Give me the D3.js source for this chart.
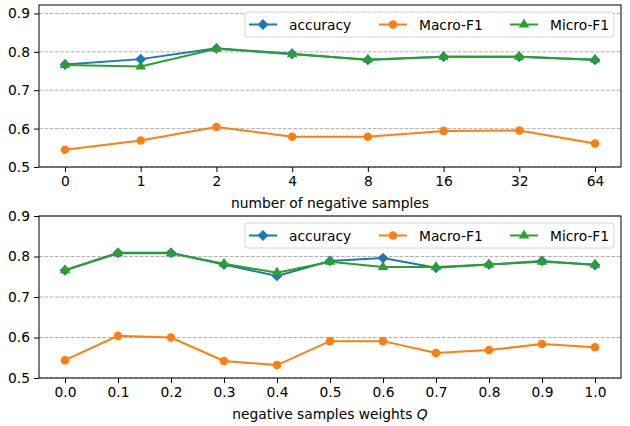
<!DOCTYPE html>
<html>
<head>
<meta charset="utf-8">
<script src="https://cdn.jsdelivr.net/npm/d3@7"></script>
<style>
  body { margin: 0; background: #fff; }
  svg { font-family: "DejaVu Sans", sans-serif; }
</style>
</head>
<body>
<div id="chart"></div>
<script>
// top panel: number of negative samples
var negLabels = ["0", "1", "2", "4", "8", "16", "32", "64"];
var negAccuracy = [0.767, 0.781, 0.809, 0.795, 0.779, 0.787, 0.787, 0.779];
var negMacro = [0.545, 0.569, 0.604, 0.579, 0.579, 0.594, 0.595, 0.561];
var negMicro = [0.766, 0.762, 0.808, 0.794, 0.780, 0.787, 0.787, 0.780];

// bottom panel: negative samples weights Q
var qValues = [0.0, 0.1, 0.2, 0.3, 0.4, 0.5, 0.6, 0.7, 0.8, 0.9, 1.0];
var qAccuracy = [0.766, 0.809, 0.809, 0.780, 0.752, 0.789, 0.796, 0.772, 0.780, 0.789, 0.779];
var qMacro = [0.544, 0.604, 0.600, 0.542, 0.532, 0.591, 0.591, 0.562, 0.569, 0.584, 0.576];
var qMicro = [0.766, 0.808, 0.808, 0.782, 0.760, 0.787, 0.774, 0.774, 0.780, 0.787, 0.780];

var yTicks = [0.5, 0.6, 0.7, 0.8, 0.9];
var seriesNames = ["accuracy", "Macro-F1", "Micro-F1"];
var colors = ["#1f77b4", "#ff7f0e", "#2ca02c"];
var shapes = [d3.symbolSquare, d3.symbolCircle, d3.symbolTriangle];
var shapeSize = [58, 58, 48];
var shapeRot = [45, 0, 0];

var W = 630, H = 426, fs = 13.8;
var svg = d3.select("#chart").append("svg")
    .attr("width", W).attr("height", H);

function marker(sel, i, px, py) {
  sel.attr("transform", "translate(" + px + "," + py + ") rotate(" + shapeRot[i] + ")")
     .attr("d", d3.symbol().type(shapes[i]).size(shapeSize[i]))
     .attr("fill", colors[i]);
}

function panel(top, bottom, yMax, x, xTickVals, xTickFmt, series, xlabel, italicQ) {
  var left = 39, right = 621;
  var y = d3.scaleLinear().domain([0.5, yMax]).range([bottom, top]);
  var g = svg.append("g");

  // dashed horizontal grid
  g.selectAll(".grid").data(yTicks).enter().append("line")
      .attr("x1", left).attr("x2", right)
      .attr("y1", function(d) { return y(d); }).attr("y2", function(d) { return y(d); })
      .attr("stroke", "#b0b0b0").attr("stroke-width", 1)
      .attr("stroke-dasharray", "3.7,1.6");

  var xAxis = g.append("g").attr("transform", "translate(0," + bottom + ")")
      .call(d3.axisBottom(x).tickValues(xTickVals).tickFormat(xTickFmt).tickSizeOuter(0).tickSize(5).tickPadding(4));
  var yAxis = g.append("g").attr("transform", "translate(" + left + ",0)")
      .call(d3.axisLeft(y).tickValues(yTicks).tickFormat(d3.format(".1f")).tickSizeOuter(0).tickSize(5).tickPadding(4));
  [xAxis, yAxis].forEach(function(a) {
    a.select(".domain").remove();
    a.selectAll("text").attr("font-size", fs).attr("fill", "#000")
      .attr("font-family", "DejaVu Sans");
    a.selectAll("line").attr("stroke", "#000").attr("stroke-width", 1);
  });

  series.forEach(function(vals, i) {
    var pts = vals.map(function(v, j) { return [x(xTickVals[j]), y(v)]; });
    g.append("path").attr("d", d3.line()(pts))
        .attr("fill", "none").attr("stroke", colors[i]).attr("stroke-width", 2);
    g.selectAll(".m" + i).data(pts).enter().append("path")
        .each(function(p) { marker(d3.select(this), i, p[0], p[1]); });
  });

  // frame
  g.append("rect").attr("x", left).attr("y", top)
      .attr("width", right - left).attr("height", bottom - top)
      .attr("fill", "none").attr("stroke", "#000").attr("stroke-width", 1);

  var lab = g.append("text").attr("x", (left + right) / 2).attr("y", bottom + 41)
      .attr("text-anchor", "middle").attr("font-size", fs).text(xlabel);
  if (italicQ) lab.append("tspan").attr("font-style", "italic").text("Q");

  // legend
  var lx = 245, ly = top + 7;
  g.append("rect").attr("x", lx).attr("y", ly).attr("width", 369).attr("height", 25)
      .attr("rx", 3).attr("fill", "#fff").attr("fill-opacity", 0.8)
      .attr("stroke", "#d6d6d6").attr("stroke-width", 1);
  var offs = [0, 130, 261];
  seriesNames.forEach(function(name, i) {
    var hx = lx + 4 + offs[i], hy = ly + 12.5;
    g.append("line").attr("x1", hx).attr("x2", hx + 28).attr("y1", hy).attr("y2", hy)
        .attr("stroke", colors[i]).attr("stroke-width", 2);
    marker(g.append("path"), i, hx + 14, hy);
    g.append("text").attr("x", hx + 40).attr("y", hy + 5)
        .attr("font-size", fs).text(name);
  });
}

var xTop = d3.scalePoint().domain(d3.range(negLabels.length)).range([65, 595]);
panel(5, 167, 0.922, xTop, d3.range(negLabels.length),
      function(d) { return negLabels[d]; },
      [negAccuracy, negMacro, negMicro], "number of negative samples", false);

var xBot = d3.scaleLinear().domain([0, 1]).range([65, 595]);
panel(216, 378, 0.9, xBot, qValues, d3.format(".1f"),
      [qAccuracy, qMacro, qMicro], "negative samples weights ", true);
</script>
</body>
</html>
